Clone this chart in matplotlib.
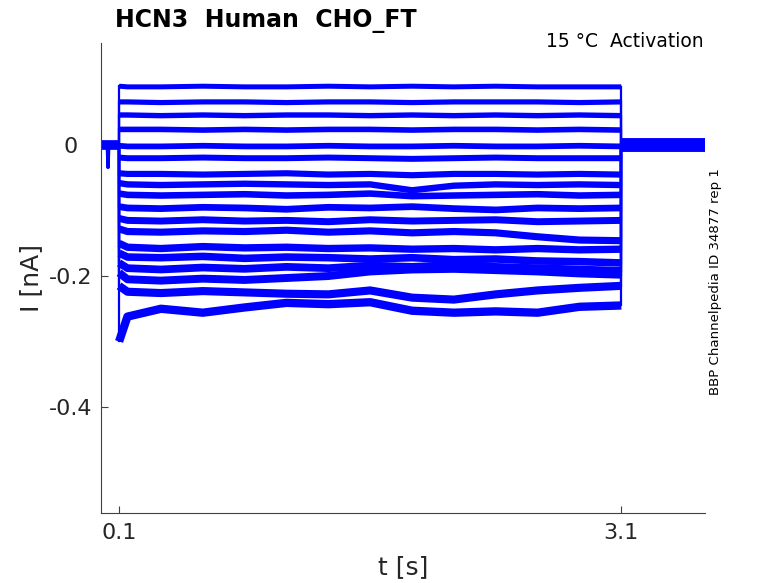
import numpy as np
import matplotlib
matplotlib.use("Agg")
import matplotlib.pyplot as plt

# time base of the step (s), levels (nA)
step_t = [0.1, 0.15, 0.35, 0.6, 0.85, 1.1, 1.35, 1.6, 1.85, 2.1, 2.35, 2.6, 2.85, 3.1]

tr01 = [0.090, 0.089, 0.089, 0.090, 0.089, 0.089, 0.090, 0.089, 0.090, 0.089, 0.090, 0.089, 0.089, 0.089]
tr02 = [0.066, 0.066, 0.065, 0.066, 0.066, 0.065, 0.066, 0.066, 0.065, 0.066, 0.066, 0.066, 0.065, 0.066]
tr03 = [0.046, 0.046, 0.045, 0.046, 0.045, 0.046, 0.046, 0.045, 0.046, 0.045, 0.046, 0.045, 0.046, 0.045]
tr04 = [0.024, 0.024, 0.024, 0.023, 0.024, 0.023, 0.024, 0.024, 0.023, 0.024, 0.024, 0.023, 0.024, 0.023]
tr05 = [-0.001, -0.002, -0.002, -0.001, -0.002, -0.002, -0.001, -0.002, -0.002, -0.001, -0.002, -0.002, -0.001, -0.002]
tr06 = [-0.019, -0.020, -0.020, -0.019, -0.020, -0.020, -0.019, -0.020, -0.021, -0.020, -0.019, -0.020, -0.020, -0.020]
tr07 = [-0.043, -0.044, -0.044, -0.045, -0.044, -0.043, -0.045, -0.044, -0.046, -0.044, -0.044, -0.045, -0.044, -0.045]
tr08 = [-0.058, -0.060, -0.061, -0.060, -0.059, -0.060, -0.061, -0.060, -0.069, -0.062, -0.060, -0.061, -0.060, -0.061]
tr09 = [-0.074, -0.076, -0.077, -0.076, -0.075, -0.077, -0.076, -0.074, -0.078, -0.077, -0.076, -0.075, -0.077, -0.076]
tr10 = [-0.094, -0.096, -0.097, -0.095, -0.096, -0.098, -0.095, -0.096, -0.094, -0.097, -0.099, -0.096, -0.097, -0.096]
tr11 = [-0.112, -0.115, -0.116, -0.114, -0.116, -0.115, -0.117, -0.114, -0.116, -0.115, -0.114, -0.117, -0.116, -0.115]
tr12 = [-0.128, -0.132, -0.133, -0.131, -0.132, -0.130, -0.133, -0.131, -0.134, -0.132, -0.134, -0.140, -0.145, -0.146]
tr13 = [-0.150, -0.156, -0.158, -0.155, -0.157, -0.156, -0.158, -0.157, -0.159, -0.158, -0.160, -0.158, -0.160, -0.159]
tr14 = [-0.165, -0.171, -0.172, -0.170, -0.173, -0.171, -0.172, -0.174, -0.172, -0.175, -0.174, -0.177, -0.178, -0.180]
tr15 = [-0.180, -0.188, -0.190, -0.187, -0.189, -0.186, -0.188, -0.184, -0.186, -0.183, -0.186, -0.188, -0.190, -0.192]
tr16 = [-0.195, -0.205, -0.207, -0.204, -0.206, -0.203, -0.200, -0.193, -0.190, -0.189, -0.191, -0.193, -0.196, -0.198]
tr17 = [-0.215, -0.224, -0.226, -0.223, -0.225, -0.227, -0.228, -0.222, -0.233, -0.236, -0.228, -0.222, -0.218, -0.215]
tr18 = [-0.300, -0.262, -0.250, -0.256, -0.248, -0.241, -0.243, -0.240, -0.253, -0.256, -0.254, -0.256, -0.247, -0.245]

traces = [tr01, tr02, tr03, tr04, tr05, tr06, tr07, tr08, tr09,
          tr10, tr11, tr12, tr13, tr14, tr15, tr16, tr17, tr18]

# holding before the step and tail after it
hold_t = [-0.008, 0.030, 0.034, 0.038, 0.1]
hold_i = [0.0, 0.0, -0.034, 0.0, 0.0]
tail_t = [3.1, 3.6]
tail_i = [0.0, 0.0]

xticks = [0.1, 3.1]
yticks = [-0.4, -0.2, 0]
ytick_labels = ['-0.4', '-0.2', '0']

blue = '#0000ff'
grey = '#404040'

fig = plt.figure(figsize=(7.78, 5.83), dpi=100)
ax = fig.add_axes([101 / 778, 70 / 583, 604 / 778, 470 / 583])

# holding level: noisy band plus the short capacitive dip
ax.plot([hold_t[0], hold_t[-1]], [hold_i[0], hold_i[-1]], color=blue, lw=7,
        solid_capstyle='butt')
ax.plot(hold_t, hold_i, color=blue, lw=2.5)
ax.plot(tail_t, tail_i, color=blue, lw=10, solid_capstyle='butt')

widths = np.linspace(3.6, 6.0, len(traces))
for tr, w in zip(traces, widths):
    ax.plot(step_t, tr, color=blue, lw=w, solid_capstyle='butt')
    ax.plot([step_t[0], step_t[0]], [0, tr[0]], color=blue, lw=1.6)
    ax.plot([step_t[-1], step_t[-1]], [tr[-1], 0], color=blue, lw=1.6)

ax.set_xlim(-0.008, 3.6)
ax.set_ylim(-0.562, 0.156)

for side in ['top', 'right']:
    ax.spines[side].set_visible(False)
for side in ['left', 'bottom']:
    ax.spines[side].set_color(grey)
    ax.spines[side].set_linewidth(0.8)

ax.set_xticks(xticks)
ax.set_xticklabels([str(v) for v in xticks])
ax.set_yticks(yticks)
ax.set_yticklabels(ytick_labels)
ax.tick_params(direction='in', length=5, width=0.8, color=grey,
               labelsize=16, labelcolor='#262626')
ax.tick_params(axis='x', pad=7)
ax.tick_params(axis='y', pad=22)
for lab in ax.get_yticklabels():
    lab.set_horizontalalignment('center')

ax.set_xlabel('t [s]', fontsize=18, color='#262626', labelpad=9)
ax.set_ylabel('I [nA]', fontsize=18, color='#262626', labelpad=4)

fig.text(115 / 778, 1 - 27 / 583, 'HCN3  Human  CHO_FT', fontsize=17,
         fontweight='bold', ha='left', va='baseline')
fig.text(704 / 778, 1 - 47 / 583, '15 °C  Activation', fontsize=13.5,
         ha='right', va='baseline')
fig.text(716 / 778, 1 - 395 / 583, 'BBP Channelpedia ID 34877 rep 1',
         fontsize=9.6, rotation=90, ha='center', va='bottom')

fig.savefig('out.png', dpi=100)
